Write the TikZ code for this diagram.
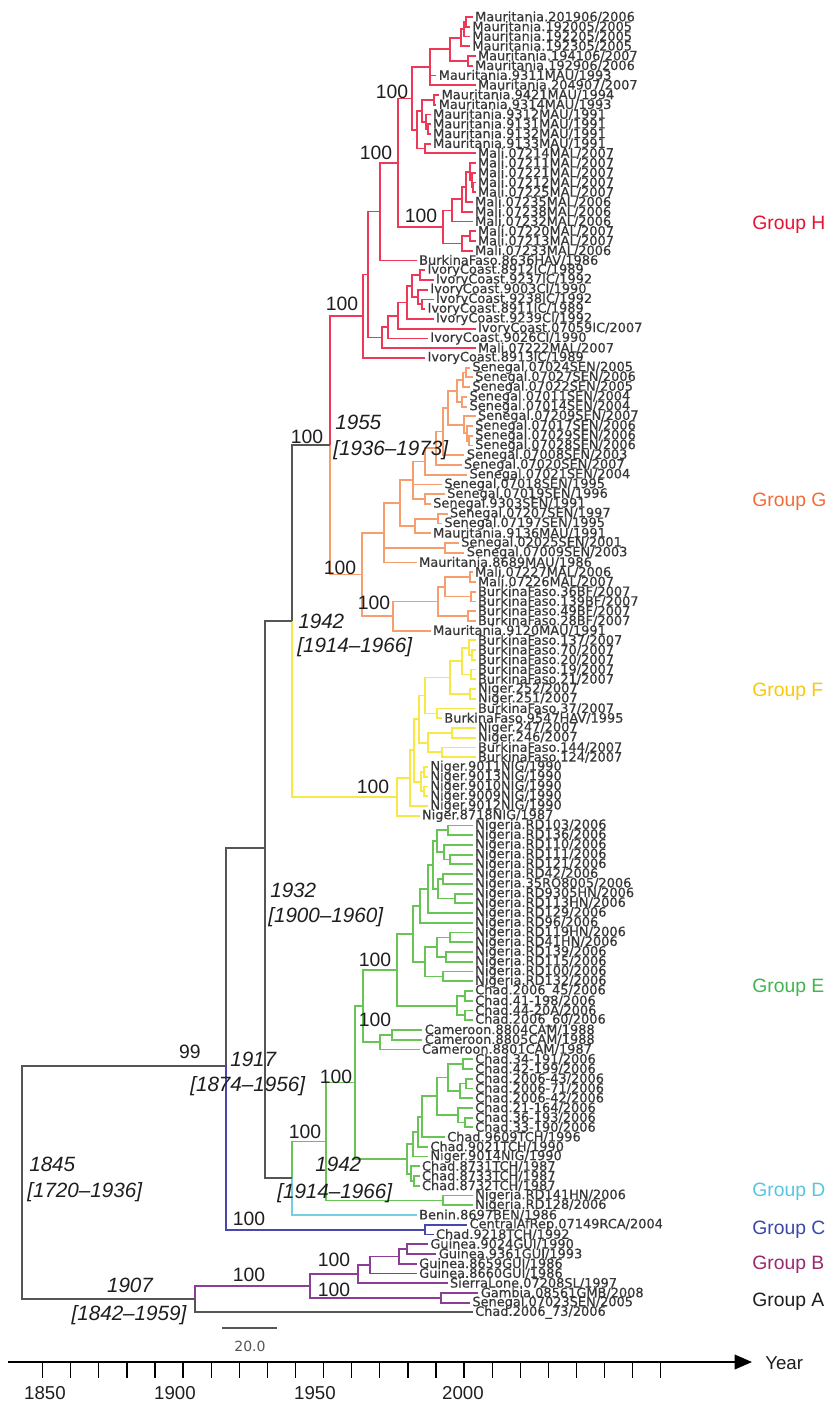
\documentclass[tikz,border=0pt]{standalone}
\usepackage{fontspec}
\setmainfont{Liberation Sans}
\newfontfamily\leaffont[FakeBold=0.5]{DejaVu Sans}
\newfontfamily\scalefont{DejaVu Sans}
\usetikzlibrary{calc,arrows.meta}
\definecolor{Hc}{RGB}{237,56,88}
\definecolor{Ht}{RGB}{228,20,50}
\definecolor{Gc}{RGB}{247,158,110}
\definecolor{Gt}{RGB}{242,108,58}
\definecolor{Fc}{RGB}{248,232,70}
\definecolor{Ft}{RGB}{250,200,10}
\definecolor{Ec}{RGB}{104,196,84}
\definecolor{Et}{RGB}{64,182,78}
\definecolor{Dc}{RGB}{118,206,226}
\definecolor{Dt}{RGB}{88,198,222}
\definecolor{Cc}{RGB}{72,72,172}
\definecolor{Ct}{RGB}{58,72,168}
\definecolor{Bc}{RGB}{140,62,150}
\definecolor{Bt}{RGB}{152,42,112}
\definecolor{Ac}{RGB}{85,85,85}
\definecolor{txtc}{RGB}{30,30,30}
\definecolor{leafc}{RGB}{55,55,55}
\newcommand\mkleaf[3]{\node[lfnode] (L#1) at ({22+((#2)-1845)*2.8},{17+((#1)-1)*9.74}) {#3};}
\newcommand\mkpt[4]{\path let \p1=(#3), \p2=(#4) in ({(#2)*0.75pt},{0.5*(\y1+\y2)}) coordinate (#1);}
\newcommand\mknode[6]{\mkpt{#1}{#2}{#3}{#4}\foreach \chld in {#6}{\draw[#5] (#1) |- (\chld);}}
\tikzset{
  br/.style={line width=1.35pt},
  brH/.style={br,draw=Hc}, brG/.style={br,draw=Gc}, brF/.style={br,draw=Fc},
  brE/.style={br,draw=Ec}, brD/.style={br,draw=Dc}, brC/.style={br,draw=Cc},
  brB/.style={br,draw=Bc}, brA/.style={br,draw=Ac,line width=1.5pt},
  lfnode/.style={anchor=west,inner sep=1.6pt,font=\leaffont\fontsize{9.7}{10}\selectfont,text=leafc},
  bs/.style={font=\fontsize{14.5}{15}\selectfont,text=txtc,inner sep=0pt},
  dt/.style={font=\itshape\fontsize{15.5}{16}\selectfont,text=txtc,inner sep=0pt,anchor=west},
  grp/.style={font=\fontsize{14.5}{15}\selectfont,anchor=west,inner sep=0pt},
  yr/.style={font=\fontsize{14}{15}\selectfont,text=txtc,inner sep=0pt},
}
\begin{document}
\begin{tikzpicture}[x=0.75pt,y=-0.75pt]
\fill[white] (0,0) rectangle (835,1404);
\useasboundingbox (0,0) rectangle (835,1404);
% ---------------- leaves ----------------
\mkleaf{1}{2006}{Mauritania.201906/2006}
\mkleaf{2}{2005}{Mauritania.192005/2005}
\mkleaf{3}{2005}{Mauritania.192205/2005}
\mkleaf{4}{2005}{Mauritania.192305/2005}
\mkleaf{5}{2007}{Mauritania.194106/2007}
\mkleaf{6}{2006}{Mauritania.192906/2006}
\mkleaf{7}{1993}{Mauritania.9311MAU/1993}
\mkleaf{8}{2007}{Mauritania.204907/2007}
\mkleaf{9}{1994}{Mauritania.9421MAU/1994}
\mkleaf{10}{1993}{Mauritania.9314MAU/1993}
\mkleaf{11}{1991}{Mauritania.9312MAU/1991}
\mkleaf{12}{1991}{Mauritania.9131MAU/1991}
\mkleaf{13}{1991}{Mauritania.9132MAU/1991}
\mkleaf{14}{1991}{Mauritania.9133MAU/1991}
\mkleaf{15}{2007}{Mali.07214MAL/2007}
\mkleaf{16}{2007}{Mali.07211MAL/2007}
\mkleaf{17}{2007}{Mali.07221MAL/2007}
\mkleaf{18}{2007}{Mali.07212MAL/2007}
\mkleaf{19}{2007}{Mali.07225MAL/2007}
\mkleaf{20}{2006}{Mali.07235MAL/2006}
\mkleaf{21}{2006}{Mali.07238MAL/2006}
\mkleaf{22}{2006}{Mali.07232MAL/2006}
\mkleaf{23}{2007}{Mali.07220MAL/2007}
\mkleaf{24}{2007}{Mali.07213MAL/2007}
\mkleaf{25}{2006}{Mali.07233MAL/2006}
\mkleaf{26}{1986}{BurkinaFaso.8636HAV/1986}
\mkleaf{27}{1989}{IvoryCoast.8912IC/1989}
\mkleaf{28}{1992}{IvoryCoast.9237IC/1992}
\mkleaf{29}{1990}{IvoryCoast.9003CI/1990}
\mkleaf{30}{1992}{IvoryCoast.9238IC/1992}
\mkleaf{31}{1989}{IvoryCoast.8911IC/1989}
\mkleaf{32}{1992}{IvoryCoast.9239CI/1992}
\mkleaf{33}{2007}{IvoryCoast.07059IC/2007}
\mkleaf{34}{1990}{IvoryCoast.9026CI/1990}
\mkleaf{35}{2007}{Mali.07222MAL/2007}
\mkleaf{36}{1989}{IvoryCoast.8913IC/1989}
\mkleaf{37}{2005}{Senegal.07024SEN/2005}
\mkleaf{38}{2006}{Senegal.07027SEN/2006}
\mkleaf{39}{2005}{Senegal.07022SEN/2005}
\mkleaf{40}{2004}{Senegal.07011SEN/2004}
\mkleaf{41}{2004}{Senegal.07014SEN/2004}
\mkleaf{42}{2007}{Senegal.07209SEN/2007}
\mkleaf{43}{2006}{Senegal.07017SEN/2006}
\mkleaf{44}{2006}{Senegal.07029SEN/2006}
\mkleaf{45}{2006}{Senegal.07028SEN/2006}
\mkleaf{46}{2003}{Senegal.07008SEN/2003}
\mkleaf{47}{2002}{Senegal.07020SEN/2007}
\mkleaf{48}{2004}{Senegal.07021SEN/2004}
\mkleaf{49}{1995}{Senegal.07018SEN/1995}
\mkleaf{50}{1996}{Senegal.07019SEN/1996}
\mkleaf{51}{1991}{Senegal.9303SEN/1991}
\mkleaf{52}{1997}{Senegal.07207SEN/1997}
\mkleaf{53}{1995}{Senegal.07197SEN/1995}
\mkleaf{54}{1991}{Mauritania.9136MAU/1991}
\mkleaf{55}{2001}{Senegal.02025SEN/2001}
\mkleaf{56}{2003}{Senegal.07009SEN/2003}
\mkleaf{57}{1986}{Mauritania.8689MAU/1986}
\mkleaf{58}{2006}{Mali.07227MAL/2006}
\mkleaf{59}{2007}{Mali.07226MAL/2007}
\mkleaf{60}{2007}{BurkinaFaso.36BF/2007}
\mkleaf{61}{2007}{BurkinaFaso.139BF/2007}
\mkleaf{62}{2007}{BurkinaFaso.49BF/2007}
\mkleaf{63}{2007}{BurkinaFaso.28BF/2007}
\mkleaf{64}{1991}{Mauritania.9120MAU/1991}
\mkleaf{65}{2007}{BurkinaFaso.137/2007}
\mkleaf{66}{2007}{BurkinaFaso.70/2007}
\mkleaf{67}{2007}{BurkinaFaso.20/2007}
\mkleaf{68}{2007}{BurkinaFaso.19/2007}
\mkleaf{69}{2007}{BurkinaFaso.21/2007}
\mkleaf{70}{2007}{Niger.252/2007}
\mkleaf{71}{2007}{Niger.251/2007}
\mkleaf{72}{2007}{BurkinaFaso.37/2007}
\mkleaf{73}{1995}{BurkinaFaso.9547HAV/1995}
\mkleaf{74}{2007}{Niger.247/2007}
\mkleaf{75}{2007}{Niger.246/2007}
\mkleaf{76}{2007}{BurkinaFaso.144/2007}
\mkleaf{77}{2007}{BurkinaFaso.124/2007}
\mkleaf{78}{1990}{Niger.9011NIG/1990}
\mkleaf{79}{1990}{Niger.9013NIG/1990}
\mkleaf{80}{1990}{Niger.9010NIG/1990}
\mkleaf{81}{1990}{Niger.9009NIG/1990}
\mkleaf{82}{1990}{Niger.9012NIG/1990}
\mkleaf{83}{1987}{Niger.8718NIG/1987}
\mkleaf{84}{2006}{Nigeria.RD103/2006}
\mkleaf{85}{2006}{Nigeria.RD136/2006}
\mkleaf{86}{2006}{Nigeria.RD110/2006}
\mkleaf{87}{2006}{Nigeria.RD111/2006}
\mkleaf{88}{2006}{Nigeria.RD121/2006}
\mkleaf{89}{2006}{Nigeria.RD42/2006}
\mkleaf{90}{2006}{Nigeria.35RO8005/2006}
\mkleaf{91}{2006}{Nigeria.RD9305HN/2006}
\mkleaf{92}{2006}{Nigeria.RD113HN/2006}
\mkleaf{93}{2006}{Nigeria.RD129/2006}
\mkleaf{94}{2006}{Nigeria.RD96/2006}
\mkleaf{95}{2006}{Nigeria.RD119HN/2006}
\mkleaf{96}{2006}{Nigeria.RD41HN/2006}
\mkleaf{97}{2006}{Nigeria.RD139/2006}
\mkleaf{98}{2006}{Nigeria.RD115/2006}
\mkleaf{99}{2006}{Nigeria.RD100/2006}
\mkleaf{100}{2006}{Nigeria.RD132/2006}
\mkleaf{101}{2006}{Chad.2006\_45/2006}
\mkleaf{102}{2006}{Chad.41-198/2006}
\mkleaf{103}{2006}{Chad.44-20A/2006}
\mkleaf{104}{2006}{Chad.2006\_60/2006}
\mkleaf{105}{1988}{Cameroon.8804CAM/1988}
\mkleaf{106}{1988}{Cameroon.8805CAM/1988}
\mkleaf{107}{1987}{Cameroon.8801CAM/1987}
\mkleaf{108}{2006}{Chad.34-191/2006}
\mkleaf{109}{2006}{Chad.42-199/2006}
\mkleaf{110}{2006}{Chad.2006-43/2006}
\mkleaf{111}{2006}{Chad.2006-71/2006}
\mkleaf{112}{2006}{Chad.2006-42/2006}
\mkleaf{113}{2006}{Chad.21-164/2006}
\mkleaf{114}{2006}{Chad.36-193/2006}
\mkleaf{115}{2006}{Chad.33-190/2006}
\mkleaf{116}{1996}{Chad.9609TCH/1996}
\mkleaf{117}{1990}{Chad.9021TCH/1990}
\mkleaf{118}{1990}{Niger.9014NIG/1990}
\mkleaf{119}{1987}{Chad.8731TCH/1987}
\mkleaf{120}{1987}{Chad.8733TCH/1987}
\mkleaf{121}{1987}{Chad.8732TCH/1987}
\mkleaf{122}{2006}{Nigeria.RD141HN/2006}
\mkleaf{123}{2006}{Nigeria.RD128/2006}
\mkleaf{124}{1986}{Benin.8697BEN/1986}
\mkleaf{125}{2004}{CentralAfRep.07149RCA/2004}
\mkleaf{126}{1992}{Chad.9218TCH/1992}
\mkleaf{127}{1990}{Guinea.9024GUI/1990}
\mkleaf{128}{1993}{Guinea.9361GUI/1993}
\mkleaf{129}{1986}{Guinea.8659GUI/1986}
\mkleaf{130}{1986}{Guinea.8660GUI/1986}
\mkleaf{131}{1997}{SierraLone.07208SL/1997}
\mkleaf{132}{2008}{Gambia.08561GMB/2008}
\mkleaf{133}{2005}{Senegal.07023SEN/2005}
\mkleaf{134}{2006}{Chad.2006\_73/2006}
% ---------------- Group H ----------------
\mknode{ha}{466}{L1}{L2}{brH}{L1,L2}
\mknode{hb}{464}{ha}{L3}{brH}{ha,L3}
\mknode{hc}{461}{hb}{L4}{brH}{hb,L4}
\mknode{hd}{468}{L5}{L6}{brH}{L5,L6}
\mknode{hMb}{450}{hc}{hd}{brH}{hc,hd}
\mknode{hMa}{430}{hMb}{L8}{brH}{hMb,L7,L8}
\mknode{he}{434}{L9}{L10}{brH}{L9,L10}
\mknode{hf}{428}{L12}{L13}{brH}{L12,L13}
\mknode{hg}{426}{L11}{hf}{brH}{L11,hf}
\mknode{hMd}{422}{he}{hg}{brH}{he,hg}
\mknode{hMe}{425}{L14}{L15}{brH}{L14,L15}
\mknode{hMc}{417}{hMd}{hMe}{brH}{hMd,hMe}
\mknode{hHi}{412}{hMa}{hMc}{brH}{hMa,hMc}
\mknode{hi}{473}{L18}{L19}{brH}{L18,L19}
\mknode{hj}{472}{L17}{hi}{brH}{L17,hi}
\mknode{hHo}{470}{L16}{hj}{brH}{L16,hj}
\mknode{hHn}{466}{hHo}{L20}{brH}{hHo,L20}
\mknode{hHm}{462}{hHn}{L21}{brH}{hHn,L21}
\mknode{hHk}{452}{hHm}{L22}{brH}{hHm,L22}
\mknode{hk}{470}{L23}{L24}{brH}{L23,L24}
\mknode{hHl}{462}{hk}{L25}{brH}{hk,L25}
\mknode{hHj}{443}{hHk}{hHl}{brH}{hHk,hHl}
\mknode{hHh}{398}{hHi}{hHj}{brH}{hHi,hHj}
\mknode{hHb}{380}{hHh}{L26}{brH}{hHh,L26}
\mknode{hl}{420}{L27}{L28}{brH}{L27,L28}
\mknode{hm}{422}{L30}{L31}{brH}{L30,L31}
\mknode{hn}{418}{L29}{hm}{brH}{L29,hm}
\mknode{hHg}{412}{hl}{hn}{brH}{hl,hn}
\mknode{hHf}{407}{hHg}{L32}{brH}{hHg,L32}
\mknode{hHe}{398}{hHf}{L33}{brH}{hHf,L33}
\mknode{hHd}{388}{hHe}{L34}{brH}{hHe,L34}
\mknode{hHc}{382}{hHd}{L35}{brH}{hHd,L35}
\mknode{hHa}{368}{hHb}{hHc}{brH}{hHb,hHc}
\mknode{hroot}{363}{hHa}{L36}{brH}{hHa,L36}
% ---------------- Group G ----------------
\mknode{ga}{466}{L37}{L38}{brG}{L37,L38}
\mknode{gb}{463}{ga}{L39}{brG}{ga,L39}
\mknode{gc}{462}{L40}{L41}{brG}{L40,L41}
\mknode{gd}{457}{gb}{gc}{brG}{gb,gc}
\mknode{ge}{469}{L44}{L45}{brG}{L44,L45}
\mknode{gf}{467}{L43}{ge}{brG}{L43,ge}
\mknode{gg}{464}{L42}{gf}{brG}{L42,gf}
\mknode{gTb}{448}{gd}{gg}{brG}{gd,gg}
\mknode{gTa}{443}{gTb}{L46}{brG}{gTb,L46}
\mknode{gTz}{436}{gTa}{L47}{brG}{gTa,L47}
\mknode{gT}{425}{gTz}{L48}{brG}{gTz,L48}
\mknode{gh}{425}{L50}{L51}{brG}{L50,L51}
\mknode{gAa}{413}{gT}{gh}{brG}{gT,L49,gh}
\mknode{gi}{438}{L52}{L53}{brG}{L52,L53}
\mknode{gAb}{415}{gi}{L54}{brG}{gi,L54}
\mknode{gA}{400}{gAa}{gAb}{brG}{gAa,gAb}
\mknode{gB}{445}{L55}{L56}{brG}{L55,L56}
\mknode{gU}{384}{gA}{L57}{brG}{gA,gB,L57}
\mknode{gj}{470}{L58}{L59}{brG}{L58,L59}
\mknode{gk}{471}{L60}{L61}{brG}{L60,L61}
\mknode{gLa}{445}{gj}{gk}{brG}{gj,gk}
\mknode{gm}{468}{L62}{L63}{brG}{L62,L63}
\mknode{gLb}{438}{gLa}{gm}{brG}{gLa,gm}
\mknode{gL}{393}{gLb}{L64}{brG}{gLb,L64}
\mknode{groot}{362}{gU}{gL}{brG}{gU,gL}
\mkpt{ghn}{330}{hroot}{groot}
\draw[brH] (ghn) |- (hroot);
\draw[brG] (ghn) |- (groot);
% ---------------- Group F ----------------
\mknode{fa}{472}{L66}{L67}{brF}{L66,L67}
\mknode{fb}{469}{L65}{fa}{brF}{L65,fa}
\mknode{fc}{471}{L68}{L69}{brF}{L68,L69}
\mknode{fFh}{462}{fb}{fc}{brF}{fb,fc}
\mknode{fd}{470}{L70}{L71}{brF}{L70,L71}
\mknode{fFg}{450}{fFh}{fd}{brF}{fFh,fd}
\mknode{fe}{437}{L72}{L73}{brF}{L72,L73}
\mknode{fFe}{425}{fFg}{fe}{brF}{fFg,fe}
\mknode{ff}{452}{L74}{L75}{brF}{L74,L75}
\mknode{fg}{442}{L76}{L77}{brF}{L76,L77}
\mknode{fFf}{428}{ff}{fg}{brF}{ff,fg}
\mknode{fFd}{419}{fFe}{fFf}{brF}{fFe,fFf}
\mknode{fh}{424}{L78}{L79}{brF}{L78,L79}
\mknode{fi}{424}{L80}{L81}{brF}{L80,L81}
\mknode{fFc}{421}{fh}{fi}{brF}{fh,fi}
\mknode{fFb}{414}{fFd}{fFc}{brF}{fFd,fFc}
\mknode{fFa}{410}{fFb}{L82}{brF}{fFb,L82}
\mknode{froot}{397}{fFa}{L83}{brF}{fFa,L83}
\mkpt{fgh}{292}{ghn}{froot}
\draw[brA] (fgh) |- (ghn);
\draw[brF] (fgh) |- (froot);
% ---------------- Group E ----------------
\mknode{ea}{448}{L84}{L85}{brE}{L84,L85}
\mknode{eb}{450}{L87}{L88}{brE}{L87,L88}
\mknode{ec}{444}{L86}{eb}{brE}{L86,eb}
\mknode{eEm}{437}{ea}{ec}{brE}{ea,ec}
\mknode{ed}{443}{L89}{L90}{brE}{L89,L90}
\mknode{ee}{455}{L91}{L92}{brE}{L91,L92}
\mknode{eEn}{438}{ed}{ee}{brE}{ed,ee}
\mknode{eEl}{433}{eEm}{eEn}{brE}{eEm,eEn}
\mknode{eEk}{428}{eEl}{L93}{brE}{eEl,L93}
\mknode{eEi}{420}{eEk}{L94}{brE}{eEk,L94}
\mknode{ef}{450}{L95}{L96}{brE}{L95,L96}
\mknode{eg}{446}{L97}{L98}{brE}{L97,L98}
\mknode{eh}{437}{ef}{eg}{brE}{ef,eg}
\mknode{ei}{443}{L99}{L100}{brE}{L99,L100}
\mknode{eEj}{425}{eh}{ei}{brE}{eh,ei}
\mknode{eEg}{413}{eEi}{eEj}{brE}{eEi,eEj}
\mknode{ej}{465}{L101}{L102}{brE}{L101,L102}
\mknode{ek}{465}{L103}{L104}{brE}{L103,L104}
\mknode{eEh}{457}{ej}{ek}{brE}{ej,ek}
\mknode{eEe}{397}{eEg}{eEh}{brE}{eEg,eEh}
\mknode{el}{392}{L105}{L106}{brE}{L105,L106}
\mknode{eEf}{380}{el}{L107}{brE}{el,L107}
\mknode{eEc}{363}{eEe}{eEf}{brE}{eEe,eEf}
\mknode{em}{463}{L108}{L109}{brE}{L108,L109}
\mknode{en}{466}{L110}{L111}{brE}{L110,L111}
\mknode{eo}{460}{en}{L112}{brE}{en,L112}
\mknode{eEs}{448}{em}{eo}{brE}{em,eo}
\mknode{ep}{465}{L114}{L115}{brE}{L114,L115}
\mknode{eEt}{458}{L113}{ep}{brE}{L113,ep}
\mknode{eEr}{437}{eEs}{eEt}{brE}{eEs,eEt}
\mknode{eEq}{422}{eEr}{L116}{brE}{eEr,L116}
\mknode{eEp}{418}{eEq}{L117}{brE}{eEq,L117}
\mknode{eEo}{413}{eEp}{L118}{brE}{eEp,L118}
\mknode{eq}{414}{L120}{L121}{brE}{L120,L121}
\mknode{er}{411}{L119}{eq}{brE}{L119,eq}
\mknode{eEd}{407}{eEo}{er}{brE}{eEo,er}
\mknode{eEa}{355}{eEc}{eEd}{brE}{eEc,eEd}
\mknode{eEb}{443}{L122}{L123}{brE}{L122,L123}
\mknode{eroot}{326}{eEa}{eEb}{brE}{eEa,eEb}
\mkpt{den}{292}{eroot}{L124}
\draw[brE] (den) |- (eroot);
\draw[brD] (den) |- (L124);
% ---------------- Group C ----------------
\mknode{cn}{425}{L125}{L126}{brC}{L125,L126}
% ---------------- backbone ----------------
\coordinate (n1932) at (265,848);
\draw[brA] (n1932) |- (fgh);
\draw[brA] (n1932) |- (den);
\coordinate (n1917) at (226,1066);
\draw[brA] (n1917) |- (n1932);
\draw[brC] (n1917) |- (cn);
% ---------------- Group B ----------------
\mknode{ba}{407}{L127}{L128}{brB}{L127,L128}
\mknode{bBd}{399}{ba}{L129}{brB}{ba,L129}
\mknode{bBc}{370}{bBd}{L130}{brB}{bBd,L130}
\mknode{bBa}{358}{bBc}{L131}{brB}{bBc,L131}
\mknode{bBb}{441}{L132}{L133}{brB}{L132,L133}
\mknode{broot}{310}{bBa}{bBb}{brB}{bBa,bBb}
\mkpt{n1907}{195}{broot}{L134}
\draw[brB] (n1907) |- (broot);
\draw[brA] (n1907) |- (L134);
\mkpt{nroot}{22}{n1917}{n1907}
\draw[brA] (nroot) |- (n1917);
\draw[brA] (nroot) |- (n1907);
% ---------------- bootstrap values ----------------
\node[bs] (bs1) at (392,92) {100};
\node[bs] (bs2) at (376,153) {100};
\node[bs] (bs3) at (421,216) {100};
\node[bs] (bs4) at (342,304) {100};
\node[bs] (bs5) at (307,437) {100};
\node[bs] (bs6) at (340,568) {100};
\node[bs] (bs7) at (374,603) {100};
\node[bs] (bs8) at (373,787) {100};
\node[bs] (bs9) at (375,960) {100};
\node[bs] (bs10) at (375,1020) {100};
\node[bs] (bs11) at (336,1077) {100};
\node[bs] (bs12) at (305,1132) {100};
\node[bs] (bs13) at (190,1052) {99};
\node[bs] (bs14) at (249,1219) {100};
\node[bs] (bs15) at (249,1275) {100};
\node[bs] (bs16) at (334,1260) {100};
\node[bs] (bs17) at (334,1290) {100};
% ---------------- dates ----------------
\node[dt] (d1) at (335,422) {1955};
\node[dt] (d1r) at (333,450) {[1936–1973]};
\node[dt] (d2) at (298,621) {1942};
\node[dt] (d2r) at (297,647) {[1914–1966]};
\node[dt] (d3) at (270,890) {1932};
\node[dt] (d3r) at (268,917) {[1900–1960]};
\node[dt] (d4) at (230,1059) {1917};
\node[dt] (d4r) at (190,1086) {[1874–1956]};
\node[dt] (d5) at (315,1164) {1942};
\node[dt] (d5r) at (277,1193) {[1914–1966]};
\node[dt] (d6) at (29,1164) {1845};
\node[dt] (d6r) at (27,1192) {[1720–1936]};
\node[dt,anchor=center] (d7) at (130,1285) {1907};
\node[dt,anchor=center] (d7r) at (129,1315) {[1842–1959]};
% ---------------- group labels ----------------
\node[grp,text=Ht] (gH) at (752,225) {Group H};
\node[grp,text=Gt] (gG) at (752,502) {Group G};
\node[grp,text=Ft] (gF) at (752,692) {Group F};
\node[grp,text=Et] (gE) at (752,988) {Group E};
\node[grp,text=Dt] (gD) at (752,1192) {Group D};
\node[grp,text=Ct] (gC) at (752,1230) {Group C};
\node[grp,text=Bt] (gBl) at (752,1265) {Group B};
\node[grp,text=txtc] (gAl) at (752,1302) {Group A};
% ---------------- scale bar ----------------
\coordinate (sb0) at (222,1328);
\coordinate (sb1) at (277,1328);
\draw[line width=1.5pt,draw=Ac] (sb0) -- (sb1);
\node[font=\scalefont\fontsize{10.5}{11}\selectfont,text=Ac,inner sep=0pt] (sbl) at (250,1346) {20.0};
% ---------------- time axis ----------------
\coordinate (ax0) at (8,1362);
\coordinate (ax1) at (752,1362);
\draw[line width=1.2pt,-{Triangle[length=13pt,width=11pt]}] (ax0) -- (ax1);
\foreach \k in {0,...,22}{\draw[line width=1pt] ({42.6+\k*28.1},1362) -- ++(0,16);}
\node[yr] (y1850) at (45,1393) {1850};
\node[yr] (y1900) at (175,1393) {1900};
\node[yr] (y1950) at (315,1393) {1950};
\node[yr] (y2000) at (463,1393) {2000};
\node[yr,anchor=west] (yrl) at (765,1363) {Year};
\end{tikzpicture}
\end{document}
